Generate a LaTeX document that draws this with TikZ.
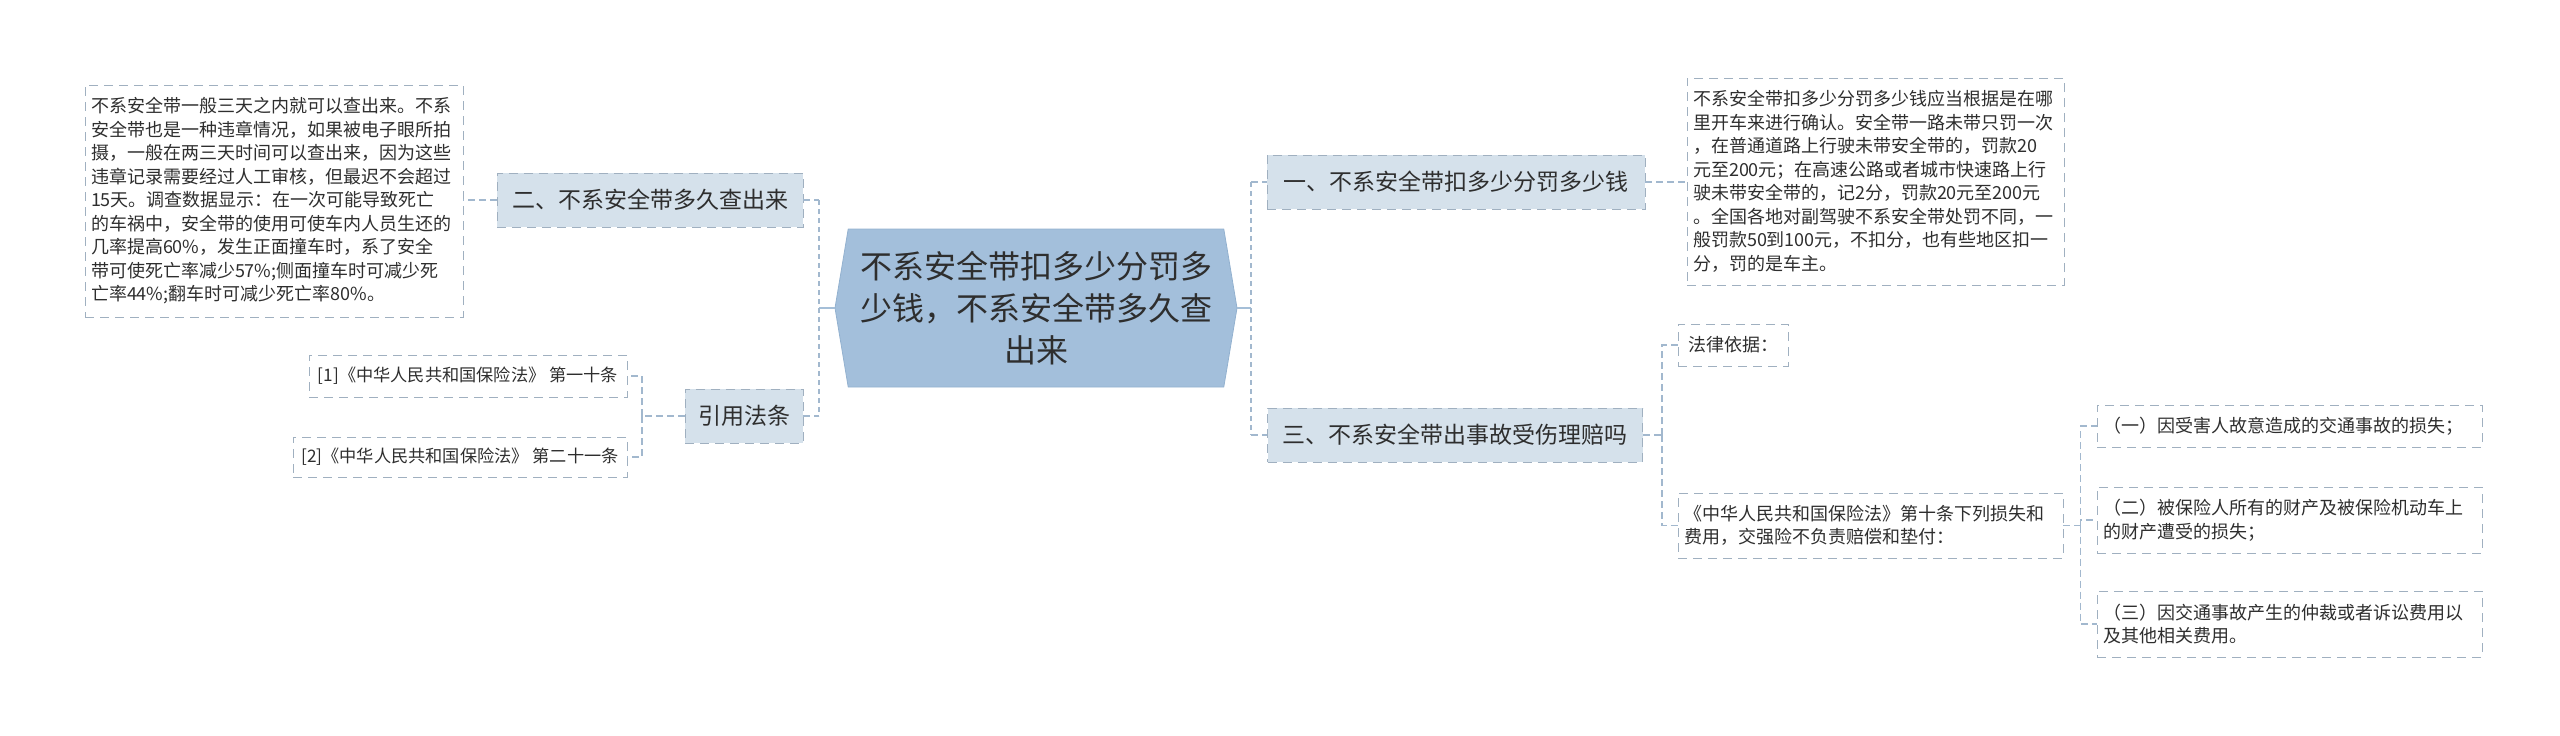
\documentclass[tikz,border=0pt]{standalone}
\usepackage{fontspec}
\setmainfont{Noto Sans CJK SC}
\usetikzlibrary{shapes.symbols}
\definecolor{topicfill}{HTML}{A3BFDB}
\definecolor{topicline}{HTML}{93B1CF}
\definecolor{branchfill}{HTML}{D5E1EB}
\definecolor{boxline}{HTML}{A0B0C0}
\definecolor{linkcol}{HTML}{A2B8CE}
\definecolor{stemcol}{HTML}{A5BFD8}
\definecolor{inktext}{HTML}{2E2E2E}
\begin{document}
\begin{tikzpicture}[x=0.5pt,y=-0.5pt,
  topic/.style={signal,signal to=west and east,signal pointer angle=161,
    fill=topicfill,draw=topicline,align=center,text=inktext,
    font=\fontsize{16}{21}\selectfont,minimum width=201pt,minimum height=79pt},
  branch/.style={draw=boxline,dash pattern=on 4.5pt off 3pt,fill=branchfill,
    text=inktext,font=\fontsize{11.5}{14}\selectfont,minimum height=27pt},
  leaf/.style={draw=boxline,dash pattern=on 4.5pt off 3pt,align=left,
    text=inktext,font=\fontsize{9}{11.75}\selectfont,inner xsep=3pt},
  stem/.style={draw=stemcol,line width=1pt},
  trunk/.style={draw=linkcol,line width=1pt,dash pattern=on 2.5pt off 2pt},
  link/.style={draw=linkcol,line width=0.6pt,dash pattern=on 3.5pt off 2pt}]
\useasboundingbox (0,0) rectangle (2560,735);
\node[topic] (root) at (1036,308) {不系安全带扣多少分罚多\\少钱，不系安全带多久查\\出来};
\node[branch,minimum width=153pt] (q2) at (650,200) {二、不系安全带多久查出来};
\node[branch,minimum width=59pt] (refs) at (744,416) {引用法条};
\node[branch,minimum width=189pt] (q1) at (1456,182) {一、不系安全带扣多少分罚多少钱};
\node[branch,minimum width=187.5pt] (q3) at (1455,435) {三、不系安全带出事故受伤理赔吗};
\node[leaf,text width=183pt,minimum height=116pt] (d2) at (274,201) {不系安全带一般三天之内就可以查出来。不系\\安全带也是一种违章情况，如果被电子眼所拍\\摄，一般在两三天时间可以查出来，因为这些\\违章记录需要经过人工审核，但最迟不会超过\\15天。调查数据显示：在一次可能导致死亡\\的车祸中，安全带的使用可使车内人员生还的\\几率提高60\%，发生正面撞车时，系了安全\\带可使死亡率减少57\%;侧面撞车时可减少死\\亡率44\%;翻车时可减少死亡率80\%。};
\node[leaf,font=\fontsize{8.6}{10}\selectfont,minimum width=159pt,minimum height=21pt] (r1) at (468,376) {[1]《中华人民共和国保险法》 第一十条};
\node[leaf,font=\fontsize{8.6}{10}\selectfont,minimum width=167pt,minimum height=20pt] (r2) at (460,457) {[2]《中华人民共和国保险法》 第二十一条};
\node[leaf,text width=182.5pt,minimum height=103.5pt] (d1) at (1875.5,181.5) {不系安全带扣多少分罚多少钱应当根据是在哪\\里开车来进行确认。安全带一路未带只罚一次\\，在普通道路上行驶未带安全带的，罚款20\\元至200元；在高速公路或者城市快速路上行\\驶未带安全带的，记2分，罚款20元至200元\\。全国各地对副驾驶不系安全带处罚不同，一\\般罚款50到100元，不扣分，也有些地区扣一\\分，罚的是车主。};
\node[leaf,minimum width=55pt,minimum height=21pt] (law) at (1733,345) {法律依据：};
\node[leaf,text width=186.5pt,minimum height=32.5pt] (art) at (1870.5,525.5) {《中华人民共和国保险法》第十条下列损失和\\费用，交强险不负责赔偿和垫付：};
\node[leaf,text width=186.5pt,minimum height=21pt] (i1) at (2289.5,426) {（一）因受害人故意造成的交通事故的损失；};
\node[leaf,text width=186.5pt,minimum height=33pt] (i2) at (2289.5,520) {（二）被保险人所有的财产及被保险机动车上\\的财产遭受的损失；};
\node[leaf,text width=186.5pt,minimum height=33pt] (i3) at (2289.5,624) {（三）因交通事故产生的仲裁或者诉讼费用以\\及其他相关费用。};
\coordinate (ltrunk) at (819,308);
\coordinate (rtrunk) at (1251,308);
\coordinate (reftrunk) at (642,416);
\coordinate (lawtrunk) at (1662,435);
\coordinate (itemtrunk) at ([xshift=8.5pt]art.east);
\draw[stem] (root.west) -- (ltrunk);
\draw[trunk] (ltrunk |- q2.east) -- (ltrunk |- refs.east);
\draw[link] (q2.east) -- (ltrunk |- q2.east);
\draw[link] (refs.east) -- (ltrunk |- refs.east);
\draw[link] (q2.west) -- (q2.west -| d2.east);
\draw[link] (refs.west) -- (reftrunk);
\draw[link] (reftrunk) |- (r1.east);
\draw[link] (reftrunk) |- (r2.east);
\draw[stem] (root.east) -- (rtrunk);
\draw[trunk] (rtrunk |- q1.west) -- (rtrunk |- q3.west);
\draw[link] (rtrunk |- q1.west) -- (q1.west);
\draw[link] (rtrunk |- q3.west) -- (q3.west);
\draw[link] (q1.east) -- (q1.east -| d1.west);
\draw[link] (q3.east) -- (lawtrunk);
\draw[link] (lawtrunk) |- (law.west);
\draw[link] (lawtrunk) |- (art.west);
\draw[link] (art.east) -- (itemtrunk);
\draw[link] (itemtrunk) |- (i1.west);
\draw[link] (itemtrunk) |- (i2.west);
\draw[link] (itemtrunk) |- (i3.west);
\end{tikzpicture}
\end{document}
